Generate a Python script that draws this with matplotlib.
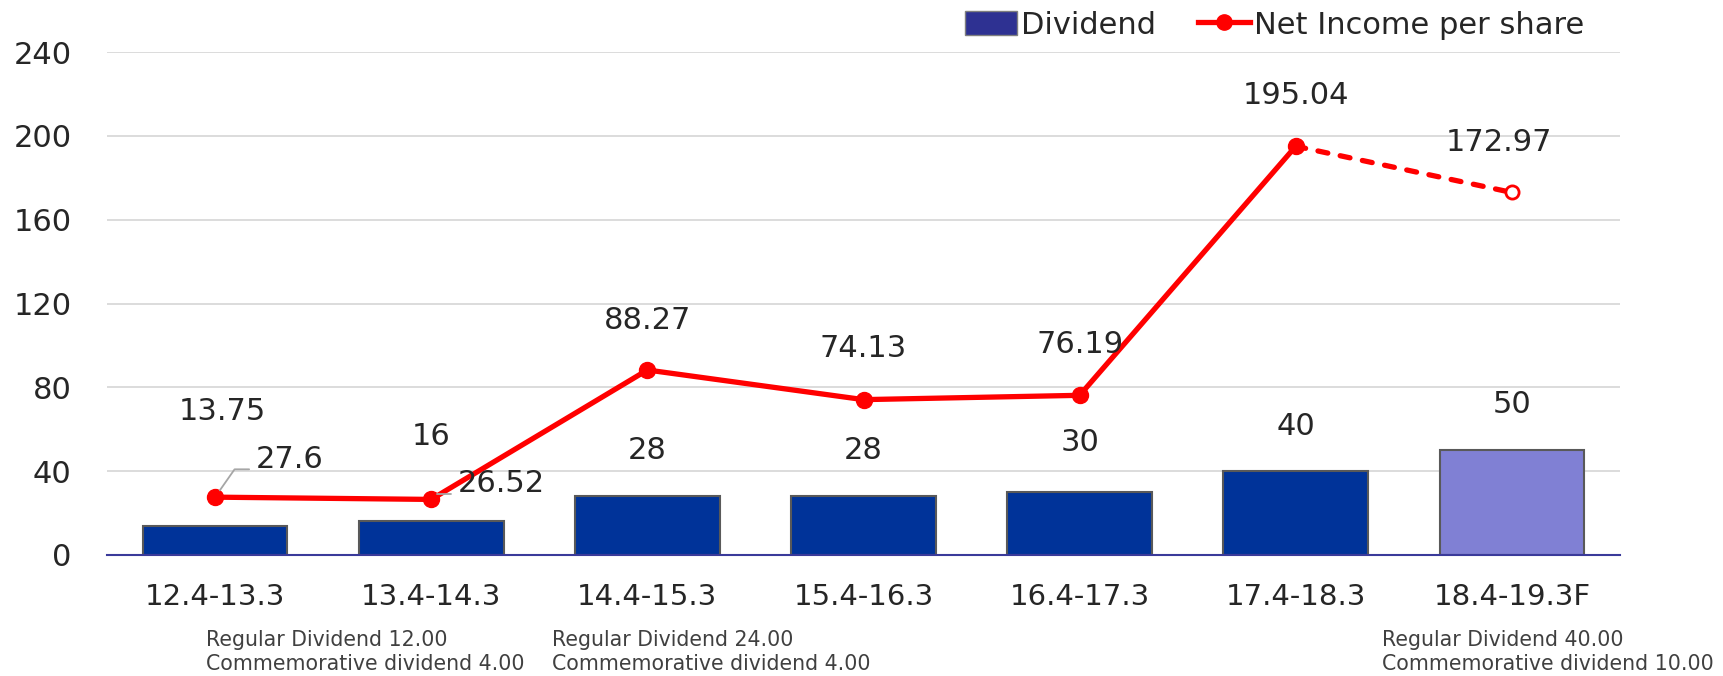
import matplotlib
matplotlib.use("Agg")
import matplotlib.pyplot as plt
from matplotlib.patches import Patch
from matplotlib.lines import Line2D
import matplotlib.transforms as mtransforms

categories = ["12.4-13.3", "13.4-14.3", "14.4-15.3", "15.4-16.3", "16.4-17.3", "17.4-18.3", "18.4-19.3F"]
dividend = [13.75, 16, 28, 28, 30, 40, 50]
dividend_labels = ["13.75", "16", "28", "28", "30", "40", "50"]
net_income = [27.6, 26.52, 88.27, 74.13, 76.19, 195.04, 172.97]
net_income_labels = ["27.6", "26.52", "88.27", "74.13", "76.19", "195.04", "172.97"]
yticks = [0, 40, 80, 120, 160, 200, 240]
notes = ["Regular Dividend 12.00\nCommemorative dividend 4.00",
         "Regular Dividend 24.00\nCommemorative dividend 4.00",
         "Regular Dividend 40.00\nCommemorative dividend 10.00"]
note_cats = [0, 2, 6]

TXT = "#262626"
RED = "#FF0000"
plt.rcParams['font.family'] = ['DejaVu Sans']

fig = plt.figure(figsize=(17.24, 6.76), dpi=100)
ax = fig.add_axes([107/1724, 1-555/676, (1620-107)/1724, (555-52)/676])

x = list(range(len(categories)))
bar_colors = ["#003399"] * 6 + ["#8080D4"]
ax.bar(x, dividend, width=0.67, color=bar_colors, edgecolor="#595959", linewidth=1.5, zorder=2)

# line
LW = 3.8
ax.plot(x[:6], net_income[:6], color=RED, lw=LW, marker='o', ms=11.5,
        solid_capstyle='round', zorder=4)
ax.plot(x[5:], net_income[5:], color=RED, lw=LW, linestyle=(0, (1.9, 2.4)),
        dash_capstyle='round', zorder=4)
ax.plot(x[6:], net_income[6:], linestyle='none', marker='o', ms=9.5,
        markerfacecolor='white', markeredgecolor=RED, markeredgewidth=2.0, zorder=5)

ax.set_xlim(-0.5, 6.5)
ax.set_ylim(0, 240)
ax.set_yticks(yticks)
ax.set_yticklabels([str(v) for v in yticks])
ax.set_xticks(x)
ax.set_xticklabels(categories)
ax.tick_params(axis='y', length=0, pad=25.5, labelsize=22, labelcolor=TXT)
ax.tick_params(axis='x', length=0, pad=20, labelsize=21, labelcolor=TXT)
ax.grid(axis='y', color="#D9D9D9", lw=1.3, zorder=0)
ax.set_axisbelow(True)
for s in ['top', 'right', 'left']:
    ax.spines[s].set_visible(False)
ax.spines['bottom'].set_color("#3A3A9A")
ax.spines['bottom'].set_linewidth(1.5)

pt = 0.72  # points per pixel at dpi 100

# bar labels (offsets in pixels)
bar_off = [(7, 115), (0, 85), (0, 46), (0, 46), (0, 50), (0, 45), (0, 46)]
for i, (v, lab) in enumerate(zip(dividend, dividend_labels)):
    dx, dy = bar_off[i]
    ax.annotate(lab, xy=(i, v), xytext=(dx*pt, dy*pt), textcoords='offset points',
                ha='center', va='center', fontsize=22, color=TXT, zorder=6)

# line labels
line_off = [(41, 38), (27, 16), (0, 50), (0, 51), (0, 51), (0, 51), (-13, 50)]
for i, (v, lab) in enumerate(zip(net_income, net_income_labels)):
    dx, dy = line_off[i]
    if i < 2:
        ax.annotate(lab, xy=(i, v), xytext=(dx*pt, dy*pt), textcoords='offset points',
                    ha='left', va='center', fontsize=22, color=TXT, zorder=6,
                    arrowprops=dict(arrowstyle='-', color="#A6A6A6", lw=1.3,
                                    relpos=(0, 0.15), shrinkA=3, shrinkB=6,
                                    connectionstyle="angle,angleA=0,angleB=55"))
    else:
        ax.annotate(lab, xy=(i, v), xytext=(dx*pt, dy*pt), textcoords='offset points',
                    ha='center', va='center', fontsize=22, color=TXT, zorder=6)

# notes below axis
trans = mtransforms.blended_transform_factory(ax.transData, fig.transFigure)
note_dx = [-0.04, -0.44, -0.60]
for c, txt, d in zip(note_cats, notes, note_dx):
    ax.text(c + d, 1 - 630/676, txt, transform=trans, ha='left', va='top',
            fontsize=14.8, color="#404040", linespacing=1.28)

# legend
handles = [Patch(facecolor="#2E3192", edgecolor="#7F7F7F", lw=1.0),
           Line2D([0], [0], color=RED, lw=LW, marker='o', ms=11)]
leg = fig.legend(handles, ["Dividend", "Net Income per share"], loc='center right',
                 bbox_to_anchor=(1612/1724, 1 - 25/676), ncol=2, frameon=False,
                 fontsize=22, handlelength=1.7, handleheight=0.8, handletextpad=0.15,
                 columnspacing=1.35, labelcolor=TXT)

fig.savefig("out.png", dpi=100)
